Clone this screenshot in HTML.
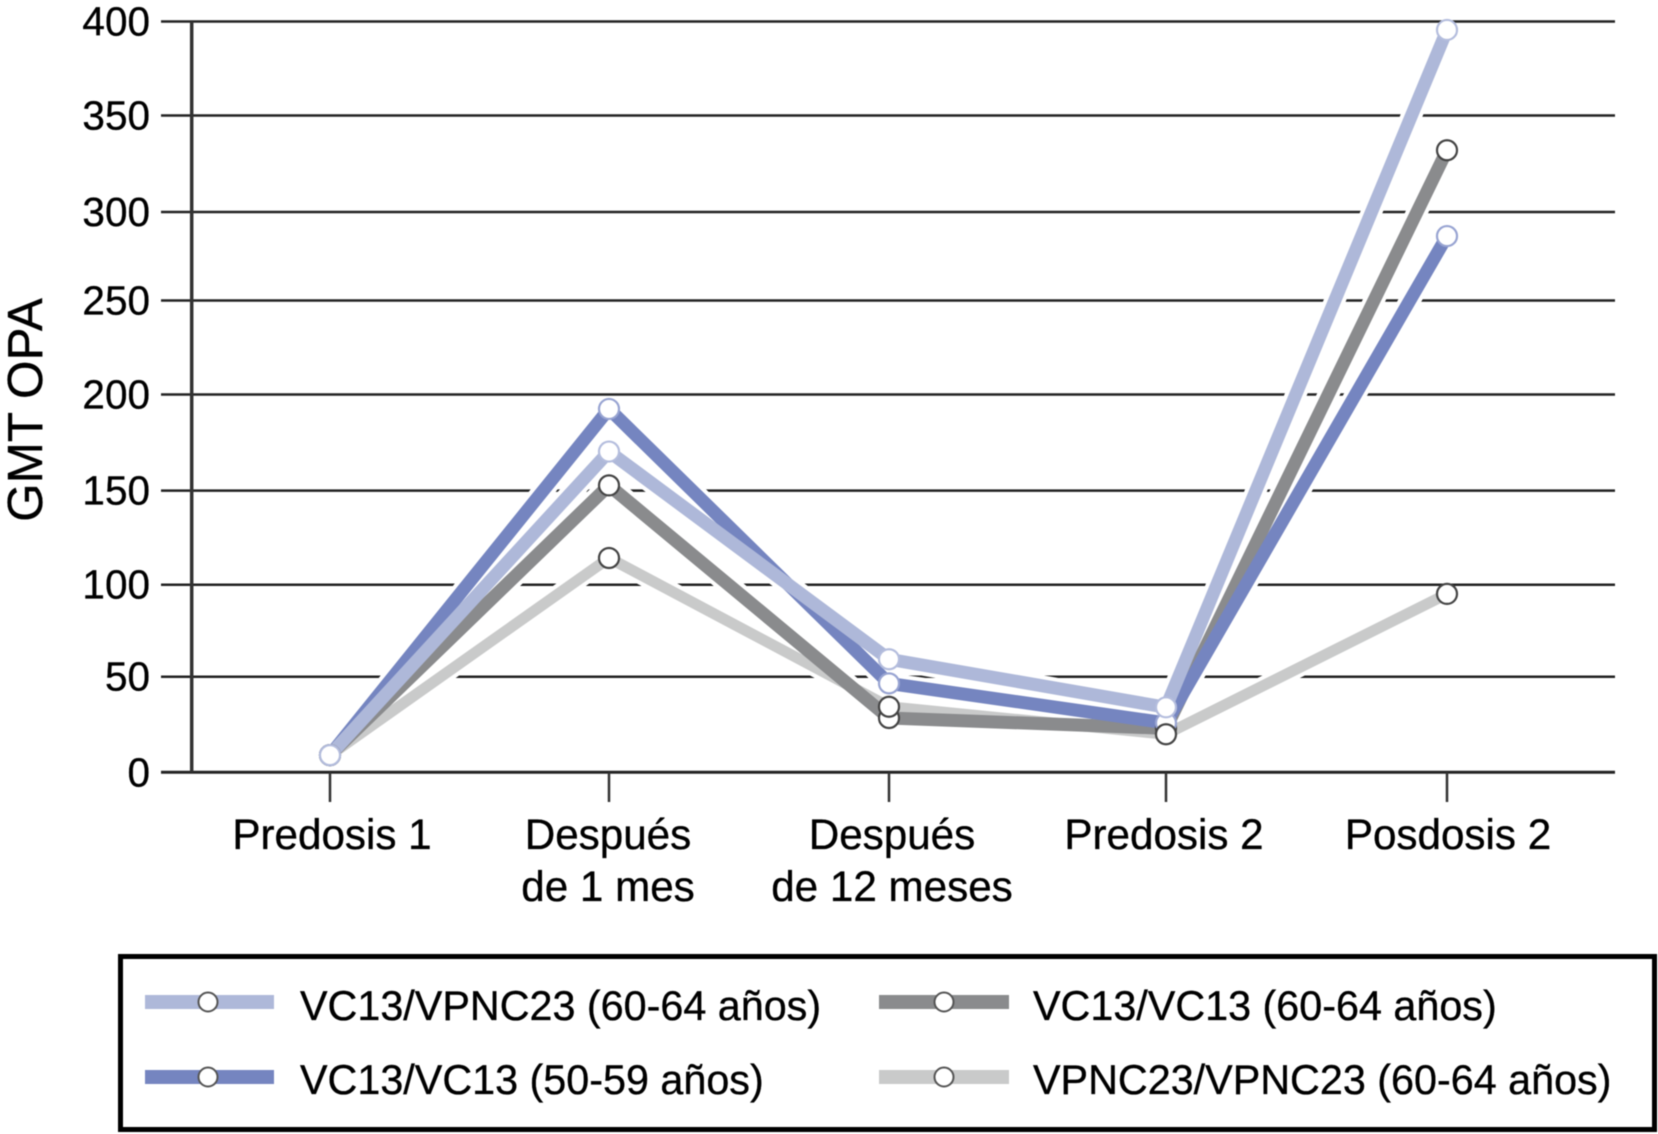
<!DOCTYPE html>
<html lang="es">
<head>
<meta charset="utf-8">
<title>GMT OPA</title>
<style>
html,body{margin:0;padding:0;background:#fff;width:1658px;height:1134px;overflow:hidden}
svg{display:block;filter:blur(.5px)}
text{font-family:"Liberation Sans",Arial,sans-serif;fill:#000;stroke:#000;stroke-width:.35px}
</style>
</head>
<body>
<svg id="chart" xmlns="http://www.w3.org/2000/svg" width="1658" height="1134" viewBox="0 0 1658 1134">
  <text transform="translate(42,410) rotate(-90)" text-anchor="middle" font-size="49.5">GMT OPA</text>
  <g id="grid"></g>
  <g id="axes"></g>
  <g id="casing"></g>
  <g id="series"></g>
  <g id="markers"></g>
  <g>
    <rect x="120.5" y="956.5" width="1534" height="173" fill="#fff" stroke="#000" stroke-width="5"/>
    <g>
      <rect x="145" y="995" width="129" height="14" fill="#aeb8d9"/>
      <circle cx="208" cy="1002" r="9.5" fill="#fff" stroke="#555" stroke-width="2"/>
      <text x="300" y="1020" font-size="41.3">VC13/VPNC23 (60-64 años)</text>
    </g>
    <g>
      <rect x="145" y="1070" width="129" height="14" fill="#7585c0"/>
      <circle cx="208" cy="1077" r="9.5" fill="#fff" stroke="#555" stroke-width="2"/>
      <text x="300" y="1094" font-size="41.3">VC13/VC13 (50-59 años)</text>
    </g>
    <g>
      <rect x="879" y="995" width="130" height="14" fill="#8a8b8d"/>
      <circle cx="944" cy="1002" r="9.5" fill="#fff" stroke="#555" stroke-width="2"/>
      <text x="1033" y="1020" font-size="41.3">VC13/VC13 (60-64 años)</text>
    </g>
    <g>
      <rect x="879" y="1070" width="130" height="14" fill="#c9caca"/>
      <circle cx="944" cy="1077" r="9.5" fill="#fff" stroke="#555" stroke-width="2"/>
      <text x="1033" y="1094" font-size="41.3">VPNC23/VPNC23 (60-64 años)</text>
    </g>
  </g>
</svg>
<script>
const categories = [["Predosis 1"], ["Después", "de 1 mes"], ["Después", "de 12 meses"], ["Predosis 2"], ["Posdosis 2"]];
const yTicks = [0, 50, 100, 150, 200, 250, 300, 350, 400];
const vpnc6064Values = [9, 114.2, 34.3, 19.9, 95];
const vc136064Values = [9, 152.7, 28.4, 23, 332];
const vc135059Values = [9, 192.5, 46.5, 25.8, 286.4];
const vc13vpnc6064Values = [9, 170.3, 59.5, 34, 395.5];

const NS = 'http://www.w3.org/2000/svg';

// The source figure's ticks and categories are unevenly spaced, so both scales are calibrated to it
const yScaleRange = [772.3, 676.7, 584.7, 490.6, 394.5, 300.5, 212, 115.5, 21.5];
const xScaleRange = [330, 609, 889, 1166, 1447];
const xLabelShift = [2, -1, 3, -2, 1];
function yScale(v) {
  let i = 0;
  while (i < yTicks.length - 2 && v > yTicks[i + 1]) i++;
  const t = (v - yTicks[i]) / (yTicks[i + 1] - yTicks[i]);
  return yScaleRange[i] + t * (yScaleRange[i + 1] - yScaleRange[i]);
}
function xScale(i) {
  return xScaleRange[i];
}
function make(tag, attrs, parent) {
  const el = document.createElementNS(NS, tag);
  for (const k in attrs) el.setAttribute(k, attrs[k]);
  parent.appendChild(el);
  return el;
}

const grid = document.getElementById('grid');
const axes = document.getElementById('axes');
const casingGroup = document.getElementById('casing');
const seriesGroup = document.getElementById('series');
const markerGroup = document.getElementById('markers');

yTicks.forEach(function (t) {
  const y = yScale(t);
  const line = make('line', {x1: 161, x2: 1615, y1: y, y2: y, stroke: '#222', 'stroke-width': t === 0 ? 3 : 2.5}, grid);
  
  
  const label = make('text', {x: 150, y: y + 14, 'text-anchor': 'end', 'font-size': 40.5}, axes);
  
  
  label.textContent = String(t);
});

const yAxis = make('line', {x1: 191.7, x2: 191.7, y1: yScale(400), y2: yScale(0), stroke: '#333', 'stroke-width': 3.5}, axes);



categories.forEach(function (lines, i) {
  const x = xScale(i);
  const tick = make('line', {x1: x, x2: x, y1: yScale(0), y2: 802, stroke: '#333', 'stroke-width': 2.5}, axes);
  
  
  lines.forEach(function (txt, j) {
    const label = make('text', {x: x + xLabelShift[i], y: 849 + j * 52, 'text-anchor': 'middle', 'font-size': 42.2}, axes);
    
    
    label.textContent = txt;
  });
});

function drawLine(values, color, width) {
  const pts = values.map(function (v, i) { return xScale(i) + ',' + yScale(v); }).join(' ');
  const casing = make('polyline', {points: pts, fill: 'none', stroke: '#fff', 'stroke-width': width + 8, 'stroke-linejoin': 'round'}, casingGroup);
  
  
  const line = make('polyline', {points: pts, fill: 'none', stroke: color, 'stroke-width': width, 'stroke-linejoin': 'round'}, seriesGroup);
  
  
}
function drawMarkers(values, outline) {
  values.forEach(function (v, i) {
    const dot = make('circle', {cx: xScale(i), cy: yScale(v), r: 10, fill: '#fff', stroke: outline, 'stroke-width': 2.2}, markerGroup);
    
    
  });
}

drawLine(vpnc6064Values, '#c9caca', 11);
drawLine(vc136064Values, '#8a8b8d', 13);
drawLine(vc135059Values, '#7585c0', 13);
drawLine(vc13vpnc6064Values, '#aeb8d9', 13);

drawMarkers(vc136064Values, '#444');
drawMarkers(vc135059Values, '#98a4d2');
drawMarkers(vpnc6064Values, '#444');
drawMarkers(vc13vpnc6064Values, '#b4bddd');
</script>
</body>
</html>
